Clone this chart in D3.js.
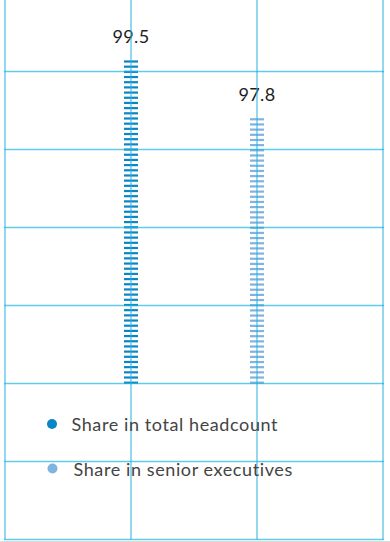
<!DOCTYPE html>
<html>
<head>
<meta charset="utf-8">
<script src="https://cdn.jsdelivr.net/npm/d3@7/dist/d3.min.js"></script>
<style>
  html, body { margin: 0; padding: 0; background: #fff; }
  svg { display: block; }
  text { font-family: Lato, "Open Sans", sans-serif; }
</style>
</head>
<body>
<svg id="chart" width="390" height="542"></svg>
<script>
// Share of employees, percent
const categories = ["Share in total headcount", "Share in senior executives"];
const values = [99.5, 97.8];
const colors = ["#0a86c6", "#7fb3e0"];
const valueLabels = ["99.5", "97.8"];

const W = 390, H = 542;
const svg = d3.select("#chart");

// Column positions: gridlines at 0..3, bars sit on the inner lines 1 and 2
const x = d3.scaleLinear().domain([0, 3]).range([5, 383]);
// Value scale, baseline at 90
const y = d3.scaleLinear().domain([90, 100]).range([384, 44]);
// Row grid (78px rows)
const row = d3.scaleLinear().domain([0, 7]).range([539.5, -6.5]);

// Pictorial bars: repeated short dashes spread evenly from baseline to the value
const dashTarget = 5.2, dashW = 14, dashH = 2.2;
const bars = svg.append("g");
values.forEach((v, i) => {
  const cx = x(i + 1);
  const top = y(v) + 0.5, base = y(90) - 1.3;
  const n = Math.round((base - top) / dashTarget);
  const step = (base - top) / n;
  const ys = d3.range(n + 1).map(k => base - k * step);
  bars.selectAll(null).data(ys).enter().append("rect")
    .attr("x", cx - dashW / 2)
    .attr("y", d => d - dashH / 2)
    .attr("width", dashW)
    .attr("height", dashH)
    .attr("fill", colors[i]);
  svg.append("text")
    .attr("x", cx)
    .attr("y", y(v) - 18)
    .attr("text-anchor", "middle")
    .attr("font-size", 18)
    .attr("letter-spacing", 0.3)
    .attr("fill", "#1e1e1e")
    .text(valueLabels[i]);
});

// Grid drawn over the marks with translucent blue
const grid = svg.append("g");
d3.range(0, 4).forEach(c => {
  grid.append("line")
    .attr("x1", x(c)).attr("x2", x(c))
    .attr("y1", 0).attr("y2", row(0))
    .attr("stroke", "#2cb0e0")
    .attr("stroke-opacity", 0.5)
    .attr("stroke-width", 2);
});
d3.range(0, 7).forEach(r => {
  grid.append("line")
    .attr("x1", x(0) - 1).attr("x2", x(3) + 1)
    .attr("y1", row(r)).attr("y2", row(r))
    .attr("stroke", "#18b2e2")
    .attr("stroke-opacity", 0.68)
    .attr("stroke-width", 1.5);
});
grid.append("line")
  .attr("x1", 0).attr("x2", W)
  .attr("y1", 541.5).attr("y2", 541.5)
  .attr("stroke", "#d8dde0").attr("stroke-width", 1);

// Legend
const legend = svg.append("g");
const legY = [424, 468.5];
const legX = [52, 52.5];
const legTX = [71.5, 73.5];
categories.forEach((c, i) => {
  legend.append("circle")
    .attr("cx", legX[i]).attr("cy", legY[i]).attr("r", 5)
    .attr("fill", colors[i]);
  legend.append("text")
    .attr("x", legTX[i]).attr("y", legY[i] + 1)
    .attr("dy", "0.35em")
    .attr("font-size", 18)
    .attr("letter-spacing", 0.6)
    .attr("fill", "#444")
    .text(c);
});
</script>
</body>
</html>
